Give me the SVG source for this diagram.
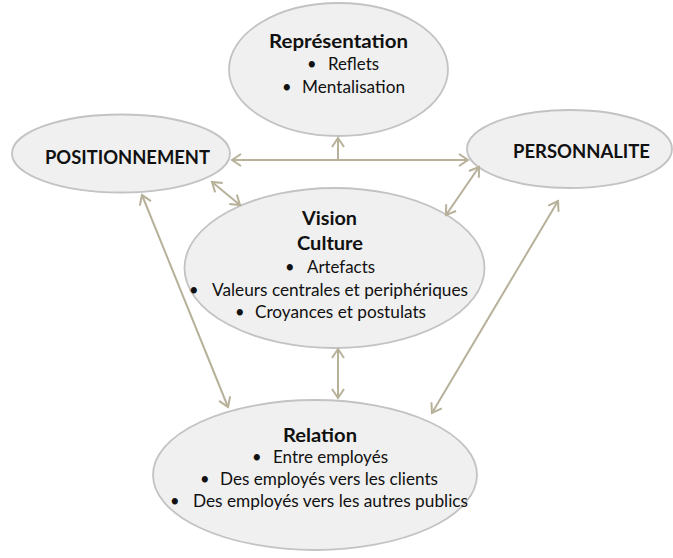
<svg xmlns="http://www.w3.org/2000/svg" width="673" height="558" viewBox="0 0 673 558">
<style>
.node ellipse{fill:#f0f0f0;stroke:#c3c3c3;stroke-width:1.8}
text{font-family:Lato,"Open Sans","Liberation Sans",sans-serif;fill:#111}
.t{font-weight:bold;font-size:18.5px}
.b{font-size:16.5px}
.c line{stroke:#b7b19a;stroke-width:2}
</style>
<defs>
<marker id="ah" markerUnits="userSpaceOnUse" markerWidth="14" markerHeight="14" refX="9" refY="6" orient="auto-start-reverse" overflow="visible">
<path d="M0,0 L9,6 L0,12" fill="none" stroke="#b7b19a" stroke-width="2"/>
</marker>
</defs>
<rect width="673" height="558" fill="#fff"/>
<g id="representation" class="node">
<ellipse cx="338.5" cy="69.5" rx="109.5" ry="66.5"/>
<text class="t" x="269" y="48" textLength="139" lengthAdjust="spacingAndGlyphs">Représentation</text>
<text class="b" x="307" y="70">•</text>
<text class="b" x="328" y="70" textLength="51" lengthAdjust="spacingAndGlyphs">Reflets</text>
<text class="b" x="282" y="93">•</text>
<text class="b" x="302" y="93" textLength="103" lengthAdjust="spacingAndGlyphs">Mentalisation</text>
</g>
<g id="positionnement" class="node">
<ellipse cx="121" cy="153.5" rx="109" ry="39"/>
<text class="t" x="45" y="164" textLength="165" lengthAdjust="spacingAndGlyphs">POSITIONNEMENT</text>
</g>
<g id="personnalite" class="node">
<ellipse cx="569.5" cy="149" rx="102.5" ry="39"/>
<text class="t" x="513" y="158" textLength="137" lengthAdjust="spacingAndGlyphs">PERSONNALITE</text>
</g>
<g id="vision" class="node">
<ellipse cx="334.5" cy="268" rx="150" ry="80"/>
<text class="t" x="302" y="225" textLength="55" lengthAdjust="spacingAndGlyphs">Vision</text>
<text class="t" x="297" y="250" textLength="66" lengthAdjust="spacingAndGlyphs">Culture</text>
<text class="b" x="285" y="273">•</text>
<text class="b" x="307" y="273" textLength="68" lengthAdjust="spacingAndGlyphs">Artefacts</text>
<text class="b" x="189" y="296">•</text>
<text class="b" x="212" y="296" textLength="256" lengthAdjust="spacingAndGlyphs">Valeurs centrales et periphériques</text>
<text class="b" x="235" y="318">•</text>
<text class="b" x="255" y="318" textLength="171" lengthAdjust="spacingAndGlyphs">Croyances et postulats</text>
</g>
<g id="relation" class="node">
<ellipse cx="315" cy="475" rx="162" ry="75"/>
<text class="t" x="283" y="442" textLength="74" lengthAdjust="spacingAndGlyphs">Relation</text>
<text class="b" x="252" y="463">•</text>
<text class="b" x="273" y="463" textLength="115" lengthAdjust="spacingAndGlyphs">Entre employés</text>
<text class="b" x="200" y="485">•</text>
<text class="b" x="220" y="485" textLength="218" lengthAdjust="spacingAndGlyphs">Des employés vers les clients</text>
<text class="b" x="170" y="507">•</text>
<text class="b" x="193" y="507" textLength="275" lengthAdjust="spacingAndGlyphs">Des employés vers les autres publics</text>
</g>
<g id="connectors" class="c">
<line x1="232" y1="160" x2="468" y2="160" marker-start="url(#ah)" marker-end="url(#ah)"/>
<line x1="338" y1="160" x2="338" y2="138" marker-end="url(#ah)"/>
<line x1="212" y1="182" x2="240" y2="205" marker-start="url(#ah)" marker-end="url(#ah)"/>
<line x1="479" y1="167" x2="446" y2="215" marker-start="url(#ah)" marker-end="url(#ah)"/>
<line x1="142" y1="195" x2="228" y2="407" marker-start="url(#ah)" marker-end="url(#ah)"/>
<line x1="558" y1="201" x2="432" y2="413" marker-start="url(#ah)" marker-end="url(#ah)"/>
<line x1="338" y1="349" x2="338" y2="398" marker-start="url(#ah)" marker-end="url(#ah)"/>
</g>
</svg>
